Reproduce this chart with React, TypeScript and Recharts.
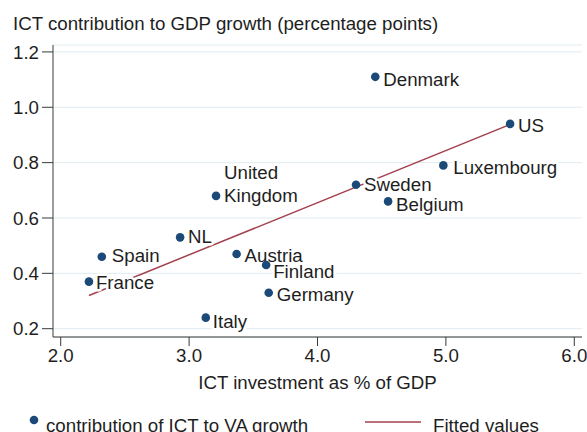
import React from "react";
import {
  ScatterChart,
  Scatter,
  XAxis,
  YAxis,
  CartesianGrid,
} from "recharts";

const countries = [
  "Denmark",
  "US",
  "Luxembourg",
  "Sweden",
  "Belgium",
  "United Kingdom",
  "NL",
  "Spain",
  "France",
  "Austria",
  "Finland",
  "Germany",
  "Italy",
];
const ictInvestment = [4.45, 5.5, 4.98, 4.3, 4.55, 3.21, 2.93, 2.32, 2.22, 3.37, 3.6, 3.62, 3.13];
const ictContribution = [1.11, 0.94, 0.79, 0.72, 0.66, 0.68, 0.53, 0.46, 0.37, 0.47, 0.43, 0.33, 0.24];

const fitX = [2.22, 5.51];
const fitY = [0.32, 0.94];

const xTicks = [2, 3, 4, 5, 6];
const yTicks = [0.2, 0.4, 0.6, 0.8, 1.0, 1.2];

const FONT = "'Liberation Sans', Arial, sans-serif";
const FS = 18.7;
const DOT = "#1c4a78";
const FIT = "#a3414d";
const GRID = "#dfebf0";
const AXIS = "#3a3a3a";
const TEXT = "#1e1e1e";

// label placement next to each marker: [dx, baseline dy]
const labelPos: Record<string, [number, number]> = {
  Denmark: [8, 9.5],
  US: [8, 8.5],
  Luxembourg: [10, 8.5],
  Sweden: [8, 6.5],
  Belgium: [8, 9.5],
  "United Kingdom": [8, 6.5],
  NL: [8, 5.5],
  Spain: [10, 5.5],
  France: [7, 7.5],
  Austria: [8, 8.5],
  Finland: [7, 12.5],
  Germany: [8, 8.5],
  Italy: [7, 10.5],
};

const points = countries.map((name, i) => ({
  name,
  x: ictInvestment[i],
  y: ictContribution[i],
}));
const fitData = fitX.map((x, i) => ({ x, y: fitY[i] }));

const haloText = {
  fontFamily: FONT,
  fontSize: FS,
  fill: TEXT,
  stroke: "#fff",
  strokeWidth: 5,
  strokeLinejoin: "round" as const,
  paintOrder: "stroke" as const,
};

const CountryDot = (props: any) => {
  const { cx, cy, payload } = props;
  const [dx, dy] = labelPos[payload.name] || [8, 6];
  const lines =
    payload.name === "United Kingdom" ? ["United", "Kingdom"] : [payload.name];
  return (
    <g>
      {lines.map((t, i) => (
        <text
          key={t}
          x={cx + dx}
          y={cy + dy - (lines.length - 1 - i) * 23}
          style={haloText}
        >
          {t}
        </text>
      ))}
      <circle cx={cx} cy={cy} r={4.3} fill={DOT} />
    </g>
  );
};

export default function App() {
  return (
    <div
      style={{
        position: "absolute",
        left: 0,
        top: 0,
        width: 587,
        height: 432,
        background: "#fff",
        overflow: "hidden",
      }}
    >
      <ScatterChart
        width={587}
        height={432}
        margin={{ top: 45, right: 5, left: 0, bottom: 0 }}
      >
        <CartesianGrid vertical={false} stroke={GRID} />
        <XAxis
          type="number"
          dataKey="x"
          domain={[1.94, 6.06]}
          ticks={xTicks}
          allowDataOverflow
          height={95}
          tickSize={9}
          tickMargin={3}
          stroke={AXIS}
          tickFormatter={(v: number) => v.toFixed(1)}
          tick={{ fill: TEXT, fontSize: FS, fontFamily: FONT }}
        />
        <YAxis
          type="number"
          dataKey="y"
          domain={[0.17, 1.225]}
          ticks={yTicks}
          allowDataOverflow
          width={53}
          tickSize={11}
          tickMargin={3}
          stroke={AXIS}
          tickFormatter={(v: number) => v.toFixed(1)}
          tick={{ fill: TEXT, fontSize: FS, fontFamily: FONT }}
        />
        <Scatter
          data={fitData}
          line={{ stroke: FIT, strokeWidth: 1.5 }}
          shape={() => <g />}
          isAnimationActive={false}
        />
        <Scatter
          data={points}
          shape={<CountryDot />}
          isAnimationActive={false}
        />
      </ScatterChart>
      <svg
        width={587}
        height={432}
        style={{ position: "absolute", left: 0, top: 0, pointerEvents: "none" }}
      >
        <text x={13} y={30} fontFamily={FONT} fontSize={FS} fill={TEXT}>
          ICT contribution to GDP growth (percentage points)
        </text>
        <text
          x={317.5}
          y={389}
          textAnchor="middle"
          fontFamily={FONT}
          fontSize={FS}
          fill={TEXT}
        >
          ICT investment as % of GDP
        </text>
        <circle cx={34} cy={420} r={4.3} fill={DOT} />
        <text x={46} y={432} fontFamily={FONT} fontSize={FS} fill={TEXT}>
          contribution of ICT to VA growth
        </text>
        <line x1={365} y1={422} x2={421} y2={422} stroke={FIT} strokeWidth={1.5} />
        <text x={433} y={432} fontFamily={FONT} fontSize={FS} fill={TEXT}>
          Fitted values
        </text>
      </svg>
    </div>
  );
}
